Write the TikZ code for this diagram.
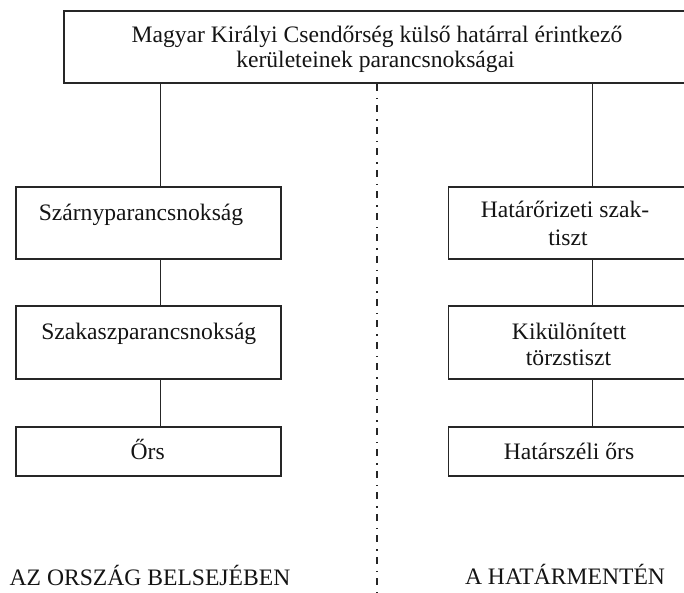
\documentclass[tikz,border=0pt]{standalone}
\usepackage{fontspec}
\setmainfont{Liberation Serif}
\begin{document}
\begin{tikzpicture}[x=1pt,y=-1pt,
  box/.style={draw=black!85, line width=1.7pt, rectangle, inner sep=0pt},
  conn/.style={draw=black!85, line width=1.5pt},
  divline/.style={draw=black!85, line width=1.7pt, dash pattern=on 7pt off 7pt on 1.5pt off 6pt},
  txt/.style={anchor=base, inner sep=0pt, text=black!92, font=\fontsize{23.6}{26}\selectfont}]
\useasboundingbox (0,0) rectangle (684,593);
\clip (0,0) rectangle (684,593);
% boxes
\node[box, minimum width=656pt, minimum height=72pt] (top) at (392,47) {};
\node[box, minimum width=265pt, minimum height=72pt] (L1) at (148.5,223) {};
\node[box, minimum width=265pt, minimum height=73pt] (L2) at (148.5,342.5) {};
\node[box, minimum width=265pt, minimum height=49pt] (L3) at (148.5,451.5) {};
\node[box, minimum width=265pt, minimum height=72pt] (R1) at (581,223) {};
\node[box, minimum width=265pt, minimum height=73pt] (R2) at (581,342.5) {};
\node[box, minimum width=265pt, minimum height=49pt] (R3) at (581,451.5) {};
% connector columns
\coordinate (lx) at (160.7,0);
\coordinate (rx) at (592.7,0);
\coordinate (divend) at (376.7,600);
\draw[conn] (top.south -| lx) -- (L1.north -| lx);
\draw[conn] (L1.south -| lx) -- (L2.north -| lx);
\draw[conn] (L2.south -| lx) -- (L3.north -| lx);
\draw[conn] (top.south -| rx) -- (R1.north -| rx);
\draw[conn] (R1.south -| rx) -- (R2.north -| rx);
\draw[conn] (R2.south -| rx) -- (R3.north -| rx);
\draw[divline] (top.south -| divend) -- (divend);
% texts
\node[txt] (t1) at (377,43) {Magyar Királyi Csendőrség külső határral érintkező};
\begin{scope}
\clip (0,0) rectangle (684,72.3);
\node[txt] (t2) at (375.5,68) {kerületeinek parancsnokságai};
\end{scope}
\node[txt] (s1) at (141,220.7) {Szárnyparancsnokság};
\node[txt] (s2) at (148.8,339.3) {Szakaszparancsnokság};
\node[txt] (s3) at (147.7,459) {Őrs};
\node[txt] (r1a) at (565,218) {Határőrizeti szak-};
\node[txt] (r1b) at (568,246) {tiszt};
\node[txt] (r2a) at (569,339) {Kikülönített};
\node[txt] (r2b) at (568.5,365) {törzstiszt};
\node[txt] (r3) at (569,459) {Határszéli őrs};
\node[txt] (labL) at (150,585) {AZ ORSZÁG BELSEJÉBEN};
\node[txt] (labR) at (565,584) {A HATÁRMENTÉN};
\end{tikzpicture}
\end{document}
